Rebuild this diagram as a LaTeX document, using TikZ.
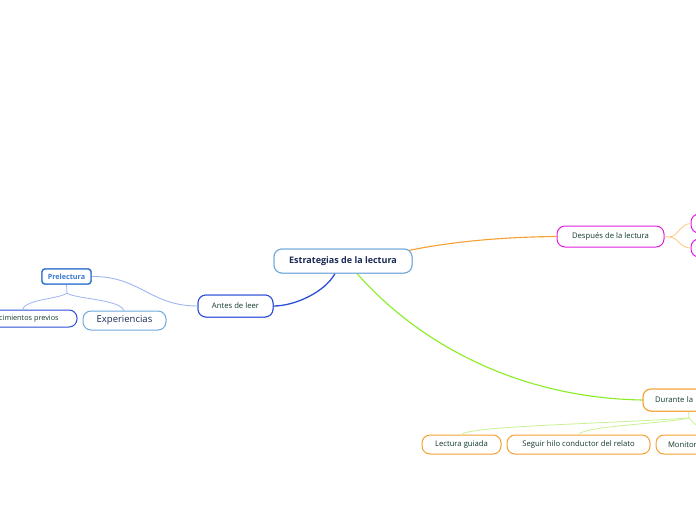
\documentclass[tikz,border=0pt]{standalone}
\usepackage{fontspec}
\setmainfont{Open Sans}
\definecolor{txt}{HTML}{123A2E}
\definecolor{navy}{HTML}{1A2A55}
\definecolor{lblue}{HTML}{6FA8DC}
\definecolor{blue}{HTML}{2B4FD8}
\definecolor{pblue}{HTML}{3A78D0}
\definecolor{lav}{HTML}{9DB4F0}
\definecolor{mag}{HTML}{E020E0}
\definecolor{orng}{HTML}{F5A030}
\definecolor{lorng}{HTML}{FFCC88}
\definecolor{grn}{HTML}{88EE22}
\definecolor{lgrn}{HTML}{C8F290}
\tikzset{
  box/.style={draw, rounded corners=8pt, fill=white, line width=1pt, inner sep=0pt, text=txt, font=\fontsize{7.7}{8}\selectfont},
  rootbox/.style={box, draw=lblue, text=navy, minimum width=138pt, minimum height=24pt, font=\fontsize{9}{10}\selectfont\bfseries},
  antesbox/.style={box, draw=blue, minimum width=75pt, minimum height=22pt},
  prebox/.style={box, draw=pblue, line width=1.4pt, rounded corners=3pt, text=pblue, minimum width=49pt, minimum height=15pt, font=\fontsize{7.2}{8}\selectfont\bfseries},
  durbox/.style={box, draw=orng, minimum width=100pt, minimum height=22pt, text width=76pt, align=left},
}
\begin{document}
\begin{tikzpicture}[x=1pt,y=-1pt]
\useasboundingbox (0,0) rectangle (696,520);
\clip (0,0) rectangle (696,520);
% nodes
\node[rootbox] (root) at (343,261) {Estrategias de la lectura};
\node[antesbox] (antes) at (235.5,306) {Antes de leer};
\node[prebox] (pre) at (66.5,276.5) {Prelectura};
\node[box, draw=blue, minimum width=114pt, minimum height=17pt, font=\fontsize{7.3}{8}\selectfont] (cono) at (20,318.5) {Conocimientos previos};
\node[box, draw=lblue, text=navy, minimum width=83pt, minimum height=19pt, font=\fontsize{9.5}{10}\selectfont] (exp) at (124.5,320.5) {Experiencias};
\node[box, draw=mag, minimum width=107pt, minimum height=21pt] (desp) at (610.5,236.5) {Después de la lectura};
\node[box, draw=mag, minimum width=60pt, minimum height=19pt] (d1) at (721,223.5) {};
\node[box, draw=mag, minimum width=60pt, minimum height=18pt] (d2) at (721,248) {};
\node[durbox] (dur) at (693,400) {Durante la lectura};
\node[box, draw=orng, minimum width=79pt, minimum height=19pt] (lg) at (461.5,444.5) {Lectura guiada};
\node[box, draw=orng, minimum width=143pt, minimum height=19pt] (seg) at (578.5,444.5) {Seguir hilo conductor del relato};
\node[box, draw=orng, minimum width=90pt, minimum height=19pt, text width=66pt, align=left] (mon) at (701,444.5) {Monitoreo};
% connectors
\draw[blue, line width=1.3pt] (root.south) ++(-8,0) coordinate (r1) .. controls (325,292) and (295,306) .. (antes.east);
\draw[orng, line width=1.1pt] (root.north east) ++(-4,2) coordinate (r2) .. controls (450,242) and (500,237) .. (desp.west);
\draw[grn, line width=1.1pt] (root.south) ++(14,0) coordinate (r3) .. controls (420,345) and (520,398) .. (dur.west);
\draw[lav, line width=0.9pt] (antes.west) .. controls (150,306) and (140,276) .. (pre.east);
\coordinate (pj) at (67,293);
\draw[lav, line width=0.8pt] (pre.south) -- (pj);
\draw[lav, line width=0.8pt] (pj) .. controls (60,299) and (25,299) .. (22,310);
\draw[lav, line width=0.8pt] (pj) .. controls (74,299) and (121,299) .. (124,311);
\coordinate (dj) at (669,237);
\draw[lorng, line width=0.9pt] (desp.east) -- (dj);
\draw[lorng, line width=0.9pt] (dj) .. controls (678,237) and (680,224) .. (d1.west);
\draw[lorng, line width=0.9pt] (dj) .. controls (678,237) and (680,248) .. (d2.west);
\coordinate (uj) at (689,418);
\draw[lgrn, line width=0.8pt] (dur.south west) ++(46,0) -- (uj);
\draw[lgrn, line width=0.8pt] (uj) .. controls (600,424) and (470,426) .. (lg.north);
\draw[lgrn, line width=0.8pt] (uj) .. controls (660,424) and (585,426) .. (seg.north);
\draw[lgrn, line width=0.8pt] (uj) .. controls (693,424) and (700,426) .. (705,435);
% redraw nodes on top of connectors
\node[rootbox] at (root) {Estrategias de la lectura};
\node[antesbox] at (antes) {Antes de leer};
\node[prebox] at (pre) {Prelectura};
\node[durbox] at (dur) {Durante la lectura};
\end{tikzpicture}
\end{document}
